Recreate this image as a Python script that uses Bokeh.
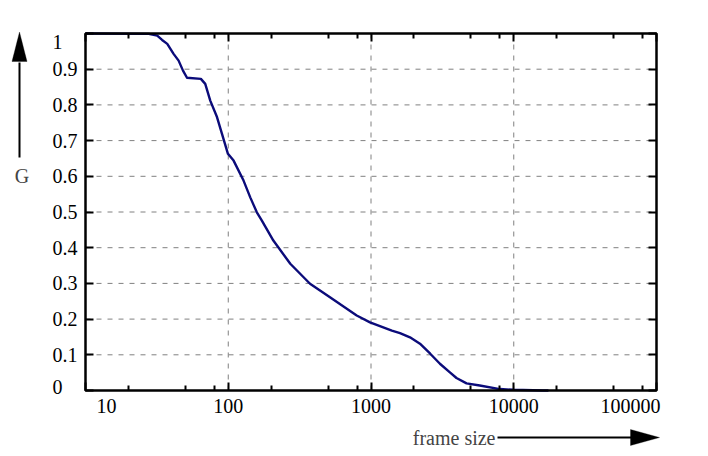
import math
from bokeh.plotting import figure
from bokeh.models import (Range1d, FixedTicker, LogAxis, LinearAxis, CustomJSTickFormatter,
                          ColumnDataSource, LabelSet, Label, Arrow, PolyAnnotation, BoxAnnotation)
from bokeh.embed import file_html
from bokeh.resources import INLINE

# curve
frame_size = [10, 27.7, 31.8, 34.4, 37.4, 41.4, 44.9, 48.2, 51.4, 64.3, 69.0, 74.8, 83.4, 90.4,
              99.5, 109, 128, 142.6, 158.6, 172, 207, 272, 374, 516, 794, 984, 1400, 1596,
              1875, 2203, 2600, 3040, 3570, 3970, 4670, 5780, 7980, 9880, 16000, 17500]
gain = [1.0, 0.999, 0.994, 0.982, 0.971, 0.943, 0.924, 0.896, 0.876, 0.873, 0.859, 0.812, 0.766,
        0.719, 0.663, 0.644, 0.588, 0.541, 0.499, 0.476, 0.420, 0.355, 0.299, 0.261, 0.210,
        0.191, 0.168, 0.161, 0.149, 0.131, 0.103, 0.075, 0.051, 0.035, 0.020, 0.014, 0.004,
        0.002, 0.0, 0.0]

x_ticks = [10, 100, 1000, 10000, 100000]
x_tick_labels = ["10", "100", "1000", "10000", "100000"]
x_minor_mult = [2, 5, 8]
y_ticks = [0, 0.1, 0.2, 0.3, 0.4, 0.5, 0.6, 0.7, 0.8, 0.9, 1]
y_tick_labels = ["0", "0.1", "0.2", "0.3", "0.4", "0.5", "0.6", "0.7", "0.8", "0.9", "1"]

FONT = "Liberation Serif"
FS = "20px"
W, H = 708, 456
# plot box inside the canvas (px): left, right, top, bottom
BL, BR, BT, BB = 85, 656, 33, 390

# the frame fills the canvas so texts and arrows outside the box are not clipped
dec = (BR - BL) / (math.log10(x_ticks[-1]) - math.log10(x_ticks[0]))
x0 = 10 ** (math.log10(x_ticks[0]) - BL / dec)
x1 = 10 ** (math.log10(x_ticks[-1]) + (W - BR) / dec)
unit = BB - BT
y0 = -(H - BB) / unit
y1 = 1 + BT / unit

p = figure(width=W, height=H, x_axis_type="log", x_range=Range1d(x0, x1),
           y_range=Range1d(y0, y1), output_backend="svg", toolbar_location=None,
           min_border=0, x_axis_location=None, y_axis_location=None)
p.background_fill_color = "white"
p.border_fill_color = "white"
p.outline_line_color = None
p.grid.visible = False

# dashed grid inside the box
gx = x_ticks[1:-1]
gy = y_ticks[1:-1]
grid = ColumnDataSource(dict(
    x0=gx + [x_ticks[0]] * len(gy), x1=gx + [x_ticks[-1]] * len(gy),
    y0=[0] * len(gx) + gy, y1=[1] * len(gx) + gy))
p.segment("x0", "y0", "x1", "y1", source=grid, line_color="#808080", line_width=1,
          line_dash="5 6")

p.line(frame_size, gain, line_color="#0b0b7a", line_width=2.4, line_join="round")

p.add_layout(BoxAnnotation(left=x_ticks[0], right=x_ticks[-1], bottom=0, top=1,
                           fill_color=None, fill_alpha=0, line_color="black",
                           line_alpha=1, line_width=2.5))

# ticks from axes pinned to the box edges
x_minor = [t * m for t in x_ticks[:-1] for m in x_minor_mult]
blank = CustomJSTickFormatter(code="return ''")
axes = [
    (LogAxis(fixed_location=0), "below", FixedTicker(ticks=x_ticks, minor_ticks=x_minor)),
    (LogAxis(fixed_location=1), "above", FixedTicker(ticks=x_ticks, minor_ticks=x_minor)),
    (LinearAxis(fixed_location=x_ticks[0]), "left", FixedTicker(ticks=y_ticks)),
    (LinearAxis(fixed_location=x_ticks[-1]), "right", FixedTicker(ticks=y_ticks)),
]
for ax, side, tk in axes:
    ax.ticker = tk
    ax.formatter = blank
    ax.axis_line_color = None
    ax.major_tick_in = 8
    ax.major_tick_out = 0
    ax.minor_tick_in = 5
    ax.minor_tick_out = 0
    ax.major_tick_line_width = 2
    ax.minor_tick_line_width = 2
    ax.major_tick_line_color = "black"
    ax.minor_tick_line_color = "black"
    ax.major_label_standoff = 0
    ax.major_label_text_font_size = "1px"
    p.add_layout(ax, side)

# tick labels, the end ones pulled inside like the original
n = len(x_ticks)
xsrc = ColumnDataSource(dict(
    x=x_ticks, y=[0] * n, text=x_tick_labels,
    align=["left"] + ["center"] * (n - 2) + ["right"],
    dx=[11] + [0] * (n - 2) + [4]))
p.add_layout(LabelSet(x="x", y="y", text="text", source=xsrc, text_align="align",
                      x_offset="dx", y_offset=-15, text_baseline="middle",
                      text_font=FONT, text_font_size=FS, text_color="black"))

m = len(y_ticks)
ysrc = ColumnDataSource(dict(
    x=[52] * m, y=y_ticks, text=y_tick_labels,
    dy=[4] + [0] * (m - 2) + [-8]))
p.add_layout(LabelSet(x="x", y="y", text="text", source=ysrc, x_units="screen",
                      y_offset="dy", text_align="left", text_baseline="middle",
                      text_font=FONT, text_font_size=FS, text_color="black"))

# axis titles with arrows (screen units, y measured from the bottom)
p.add_layout(Label(x=21.5, y=H - 175, x_units="screen", y_units="screen", text="G",
                   text_align="center", text_baseline="middle",
                   text_font=FONT, text_font_size=FS))
p.add_layout(Label(x=495, y=H - 437, x_units="screen", y_units="screen", text="frame size",
                   text_align="right", text_baseline="middle",
                   text_font=FONT, text_font_size=FS))

p.add_layout(Arrow(x_start=19, y_start=H - 157, x_end=19, y_end=H - 62, start_units="screen",
                   end_units="screen", end=None, line_width=2, line_color="black"))
p.add_layout(PolyAnnotation(xs=[19, 11.5, 26.5], ys=[H - 31.5, H - 61, H - 61],
                            xs_units="screen", ys_units="screen", fill_color="black",
                            fill_alpha=1, line_color="black", line_width=1))
p.add_layout(Arrow(x_start=497, y_start=H - 437, x_end=632, y_end=H - 437,
                   start_units="screen", end_units="screen", end=None, line_width=2,
                   line_color="black"))
p.add_layout(PolyAnnotation(xs=[659, 630, 630], ys=[H - 437, H - 429, H - 445],
                            xs_units="screen", ys_units="screen", fill_color="black",
                            fill_alpha=1, line_color="black", line_width=1))

open("out.html", "w").write(file_html(p, INLINE))
